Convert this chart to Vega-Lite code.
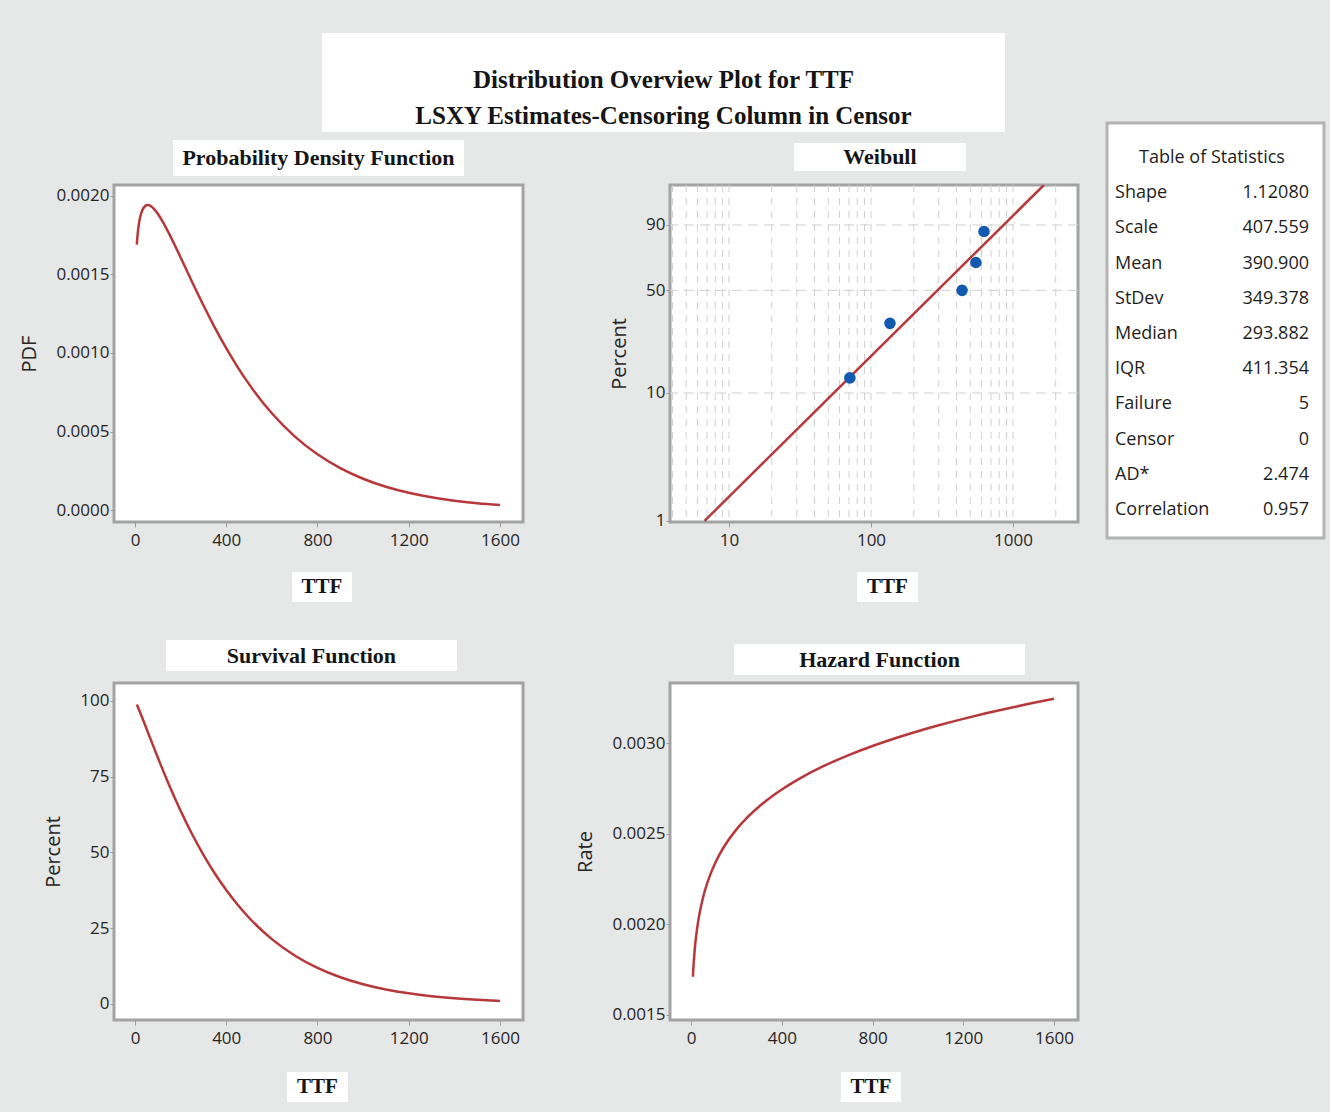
{
  "$schema": "https://vega.github.io/schema/vega-lite/v6.json",
  "background": "#e6e7e7",
  "padding": {"left": 18, "top": 33, "right": 10, "bottom": 20},
  "datasets": {
    "curve": [
      {"ttf": 8, "pdf": 0.0016897, "surv": 98.787, "rate": 0.0017105},
      {"ttf": 10, "pdf": 0.0017299, "surv": 98.444, "rate": 0.0017572},
      {"ttf": 15, "pdf": 0.0018004, "surv": 97.56, "rate": 0.0018454},
      {"ttf": 20, "pdf": 0.0018466, "surv": 96.648, "rate": 0.0019107},
      {"ttf": 30, "pdf": 0.0019017, "surv": 94.771, "rate": 0.0020066},
      {"ttf": 40, "pdf": 0.0019291, "surv": 92.854, "rate": 0.0020776},
      {"ttf": 55, "pdf": 0.001942, "surv": 89.947, "rate": 0.0021591},
      {"ttf": 70, "pdf": 0.0019348, "surv": 87.038, "rate": 0.0022229},
      {"ttf": 85, "pdf": 0.0019149, "surv": 84.149, "rate": 0.0022756},
      {"ttf": 100, "pdf": 0.0018867, "surv": 81.297, "rate": 0.0023207},
      {"ttf": 125, "pdf": 0.0018275, "surv": 76.651, "rate": 0.0023842},
      {"ttf": 150, "pdf": 0.0017588, "surv": 72.166, "rate": 0.0024372},
      {"ttf": 200, "pdf": 0.0016085, "surv": 63.744, "rate": 0.0025234},
      {"ttf": 250, "pdf": 0.001454, "surv": 56.088, "rate": 0.0025924},
      {"ttf": 300, "pdf": 0.0013038, "surv": 49.199, "rate": 0.0026501},
      {"ttf": 350, "pdf": 0.001162, "surv": 43.037, "rate": 0.0026999},
      {"ttf": 400, "pdf": 0.0010306, "surv": 37.56, "rate": 0.0027438},
      {"ttf": 450, "pdf": 0.0009104, "surv": 32.712, "rate": 0.0027831},
      {"ttf": 500, "pdf": 0.0008016, "surv": 28.437, "rate": 0.0028188},
      {"ttf": 600, "pdf": 0.0006161, "surv": 21.383, "rate": 0.0028815},
      {"ttf": 700, "pdf": 0.0004693, "surv": 15.985, "rate": 0.0029357},
      {"ttf": 800, "pdf": 0.0003547, "surv": 11.889, "rate": 0.0029834},
      {"ttf": 900, "pdf": 0.0002664, "surv": 8.803, "rate": 0.0030262},
      {"ttf": 1000, "pdf": 0.000199, "surv": 6.492, "rate": 0.003065},
      {"ttf": 1100, "pdf": 0.0001479, "surv": 4.77, "rate": 0.0031005},
      {"ttf": 1200, "pdf": 0.0001094, "surv": 3.492, "rate": 0.0031332},
      {"ttf": 1300, "pdf": 0.0000806, "surv": 2.549, "rate": 0.0031637},
      {"ttf": 1400, "pdf": 0.0000592, "surv": 1.855, "rate": 0.0031921},
      {"ttf": 1500, "pdf": 0.0000433, "surv": 1.346, "rate": 0.0032188},
      {"ttf": 1600, "pdf": 0.0000316, "surv": 0.975, "rate": 0.003244}
    ]
  },
  "config": {
    "view": {"stroke": null},
    "axis": {
      "labelFont": "Open Sans", "labelFontSize": 17, "labelColor": "#262626",
      "tickColor": "#9c9c9c", "tickSize": 4, "labelPadding": 1,
      "domain": false, "grid": false,
      "titleFont": "Open Sans", "titleFontSize": 20, "titleFontWeight": "normal",
      "titleColor": "#262626", "titlePadding": 16, "labelFlush": false
    },
    "axisX": {"labelPadding": 5, "tickSize": 5}
  },
  "spacing": 25,
  "hconcat": [
    {
      "spacing": 0,
      "vconcat": [
        {
          "width": 891, "height": 99,
          "view": {"stroke": null, "fill": null},
          "data": {"values": [
            {"box": "main", "line": "1", "text": "Distribution Overview Plot for TTF"},
            {"box": "main", "line": "2", "text": "LSXY Estimates-Censoring Column in Censor"}
          ]},
          "encoding": {
            "x": {"field": "box", "type": "nominal", "axis": null, "scale": {"type": "band", "paddingInner": 0, "paddingOuter": 0.1523, "align": 1}}
          },
          "layer": [
            {"mark": {"type": "rect", "color": "white"},
             "encoding": {
               "y": {"datum": 1, "type": "quantitative", "axis": null, "scale": {"domain": [0, 1], "nice": false, "zero": false}},
               "y2": {"datum": 0}
             }},
            {"mark": {"type": "text", "font": "Liberation Serif", "fontWeight": "bold", "fontSize": 25, "color": "#151515"},
             "encoding": {
               "y": {"field": "line", "type": "nominal", "axis": null, "scale": {"type": "point", "padding": 0.875, "align": 0.746}},
               "text": {"field": "text"}
             }}
          ],
          "resolve": {"scale": {"y": "independent"}}
        },
        {
          "spacing": 49,
          "hconcat": [
            {
              "bounds": "flush",
              "spacing": 0,
              "vconcat": [
                {
                  "width": 409, "height": 53,
                  "view": {"stroke": null, "fill": null},
                  "data": {"values": [{"box": "Probability Density Function"}]},
                  "encoding": {
                    "x": {"field": "box", "type": "nominal", "axis": null, "scale": {"type": "band", "paddingInner": 0, "paddingOuter": 0.2027, "align": 0.5}},
                    "y": {"field": "box", "type": "nominal", "axis": null, "scale": {"type": "band", "paddingInner": 0, "paddingOuter": 0.2361, "align": 0.47}}
                  },
                  "layer": [
                    {"mark": {"type": "rect", "color": "white"}},
                    {"mark": {"type": "text", "font": "Liberation Serif", "fontWeight": "bold", "fontSize": 22, "color": "#151515"}, "encoding": {"text": {"field": "box"}}}
                  ]
                },
                {
                  "width": 409, "height": 337,
                  "view": {"fill": "white", "stroke": "#a3a3a3", "strokeWidth": 3},
                  "data": {"name": "curve"},
                  "mark": {"type": "line", "color": "#b7383a", "strokeWidth": 2.5, "interpolate": "monotone"},
                  "encoding": {
                    "x": {"field": "ttf", "type": "quantitative", "scale": {"domain": [-92, 1701], "nice": false, "zero": false},
                          "axis": {"values": [0, 400, 800, 1200, 1600], "format": "d", "title": null}},
                    "y": {"field": "pdf", "type": "quantitative", "scale": {"domain": [-0.0000764, 0.00207], "nice": false, "zero": false},
                          "axis": {"values": [0, 0.0005, 0.001, 0.0015, 0.002], "format": ".4f", "title": "PDF"}}
                  }
                },
                {
                  "width": 409, "height": 80,
                  "view": {"stroke": null, "fill": null},
                  "data": {"values": [{"box": "TTF"}]},
                  "encoding": {
                    "x": {"field": "box", "type": "nominal", "axis": null, "scale": {"type": "band", "paddingInner": 0.6562, "paddingOuter": 1, "align": 0.51}},
                    "y": {"field": "box", "type": "nominal", "axis": null, "scale": {"type": "band", "paddingInner": 0, "paddingOuter": 0.8333, "align": 1}}
                  },
                  "layer": [
                    {"mark": {"type": "rect", "color": "white"}},
                    {"mark": {"type": "text", "font": "Liberation Serif", "fontWeight": "bold", "fontSize": 21, "color": "#151515"}, "encoding": {"text": {"field": "box"}}}
                  ]
                },
                {
                  "width": 409, "height": 81,
                  "view": {"stroke": null, "fill": null},
                  "data": {"values": [{"box": "Survival Function"}]},
                  "encoding": {
                    "x": {"field": "box", "type": "nominal", "axis": null, "scale": {"type": "band", "paddingInner": 0, "paddingOuter": 0.2027, "align": 0.44}},
                    "y": {"field": "box", "type": "nominal", "axis": null, "scale": {"type": "band", "paddingInner": 0, "paddingOuter": 0.8065, "align": 0.76}}
                  },
                  "layer": [
                    {"mark": {"type": "rect", "color": "white"}},
                    {"mark": {"type": "text", "font": "Liberation Serif", "fontWeight": "bold", "fontSize": 22, "color": "#151515"}, "encoding": {"text": {"field": "box"}}}
                  ]
                },
                {
                  "width": 409, "height": 337,
                  "view": {"fill": "white", "stroke": "#a3a3a3", "strokeWidth": 3},
                  "data": {"name": "curve"},
                  "mark": {"type": "line", "color": "#b7383a", "strokeWidth": 2.5, "interpolate": "monotone"},
                  "encoding": {
                    "x": {"field": "ttf", "type": "quantitative", "scale": {"domain": [-92, 1701], "nice": false, "zero": false},
                          "axis": {"values": [0, 400, 800, 1200, 1600], "format": "d", "title": null}},
                    "y": {"field": "surv", "type": "quantitative", "scale": {"domain": [-5.3, 105.9], "nice": false, "zero": false},
                          "axis": {"values": [0, 25, 50, 75, 100], "format": "d", "title": "Percent"}}
                  }
                },
                {
                  "width": 409, "height": 82,
                  "view": {"stroke": null, "fill": null},
                  "data": {"values": [{"box": "TTF"}]},
                  "encoding": {
                    "x": {"field": "box", "type": "nominal", "axis": null, "scale": {"type": "band", "paddingInner": 0.6494, "paddingOuter": 1, "align": 0.497}},
                    "y": {"field": "box", "type": "nominal", "axis": null, "scale": {"type": "band", "paddingInner": 0, "paddingOuter": 0.8667, "align": 1}}
                  },
                  "layer": [
                    {"mark": {"type": "rect", "color": "white"}},
                    {"mark": {"type": "text", "font": "Liberation Serif", "fontWeight": "bold", "fontSize": 21, "color": "#151515"}, "encoding": {"text": {"field": "box"}}}
                  ]
                }
              ]
            },
            {
              "bounds": "flush",
              "spacing": 0,
              "vconcat": [
                {
                  "width": 408, "height": 53,
                  "view": {"stroke": null, "fill": null},
                  "data": {"values": [{"box": "Weibull"}]},
                  "encoding": {
                    "x": {"field": "box", "type": "nominal", "axis": null, "scale": {"type": "band", "paddingInner": 0, "paddingOuter": 0.686, "align": 0.525}},
                    "y": {"field": "box", "type": "nominal", "axis": null, "scale": {"type": "band", "paddingInner": 0, "paddingOuter": 0.4464, "align": 0.44}}
                  },
                  "layer": [
                    {"mark": {"type": "rect", "color": "white"}},
                    {"mark": {"type": "text", "font": "Liberation Serif", "fontWeight": "bold", "fontSize": 22, "color": "#151515"}, "encoding": {"text": {"field": "box"}}}
                  ]
                },
                {
                  "width": 408, "height": 337,
                  "view": {"fill": "white", "stroke": "#a3a3a3", "strokeWidth": 3},
                  "layer": [
                    {
                      "data": {"values": [
                        {"ttf": 4}, {"ttf": 5}, {"ttf": 6}, {"ttf": 7}, {"ttf": 8}, {"ttf": 9}, {"ttf": 10},
                        {"ttf": 20}, {"ttf": 30}, {"ttf": 40}, {"ttf": 50}, {"ttf": 60}, {"ttf": 70}, {"ttf": 80}, {"ttf": 90}, {"ttf": 100},
                        {"ttf": 200}, {"ttf": 300}, {"ttf": 400}, {"ttf": 500}, {"ttf": 600}, {"ttf": 700}, {"ttf": 800}, {"ttf": 900}, {"ttf": 1000},
                        {"ttf": 2000}
                      ]},
                      "mark": {"type": "rule", "color": "#d0d0d0", "strokeDash": [7, 6], "strokeWidth": 1},
                      "encoding": {
                        "x": {"field": "ttf", "type": "quantitative", "scale": {"type": "log", "domain": [3.84, 2870], "nice": false},
                              "axis": {"values": [10, 100, 1000], "format": "d", "title": null}}
                      }
                    },
                    {
                      "data": {"values": [{"wz": -2.2504}, {"wz": -0.3665}, {"wz": 0.834}]},
                      "mark": {"type": "rule", "color": "#d0d0d0", "strokeDash": [10, 6], "strokeWidth": 1},
                      "encoding": {
                        "y": {"field": "wz", "type": "quantitative", "scale": {"domain": [-4.62, 1.568], "nice": false, "zero": false},
                              "axis": {"values": [-4.6002, -2.2504, -0.3665, 0.834], "title": "Percent",
                                       "labelExpr": "datum.value < -4 ? '1' : datum.value < -1 ? '10' : datum.value < 0 ? '50' : '90'"}}
                      }
                    },
                    {
                      "data": {"values": [
                        {"ttf": 6.725, "percent": 1, "wz": -4.6002},
                        {"ttf": 1651, "percent": 99.17, "wz": 1.568}
                      ]},
                      "mark": {"type": "line", "color": "#b7383a", "strokeWidth": 2.5, "clip": true},
                      "encoding": {
                        "x": {"field": "ttf", "type": "quantitative", "scale": {"type": "log", "domain": [3.84, 2870], "nice": false},
                              "axis": {"values": [10, 100, 1000], "format": "d", "title": null}},
                        "y": {"field": "wz", "type": "quantitative", "scale": {"domain": [-4.62, 1.568], "nice": false, "zero": false},
                              "axis": {"values": [-4.6002, -2.2504, -0.3665, 0.834], "title": "Percent",
                                       "labelExpr": "datum.value < -4 ? '1' : datum.value < -1 ? '10' : datum.value < 0 ? '50' : '90'"}}
                      }
                    },
                    {
                      "data": {"values": [
                        {"ttf": 71, "percent": 12.96, "wz": -1.9744},
                        {"ttf": 136, "percent": 31.48, "wz": -0.9724},
                        {"ttf": 438, "percent": 50.0, "wz": -0.3665},
                        {"ttf": 548, "percent": 68.52, "wz": 0.1448},
                        {"ttf": 625, "percent": 87.04, "wz": 0.7144}
                      ]},
                      "mark": {"type": "point", "filled": true, "size": 135, "color": "#1259b0", "opacity": 1},
                      "encoding": {
                        "x": {"field": "ttf", "type": "quantitative", "scale": {"type": "log", "domain": [3.84, 2870], "nice": false},
                              "axis": {"values": [10, 100, 1000], "format": "d", "title": null}},
                        "y": {"field": "wz", "type": "quantitative", "scale": {"domain": [-4.62, 1.568], "nice": false, "zero": false},
                              "axis": {"values": [-4.6002, -2.2504, -0.3665, 0.834], "title": "Percent",
                                       "labelExpr": "datum.value < -4 ? '1' : datum.value < -1 ? '10' : datum.value < 0 ? '50' : '90'"}}
                      }
                    }
                  ]
                },
                {
                  "width": 408, "height": 80,
                  "view": {"stroke": null, "fill": null},
                  "data": {"values": [{"box": "TTF"}]},
                  "encoding": {
                    "x": {"field": "box", "type": "nominal", "axis": null, "scale": {"type": "band", "paddingInner": 0.6484, "paddingOuter": 1, "align": 0.539}},
                    "y": {"field": "box", "type": "nominal", "axis": null, "scale": {"type": "band", "paddingInner": 0, "paddingOuter": 0.8333, "align": 1}}
                  },
                  "layer": [
                    {"mark": {"type": "rect", "color": "white"}},
                    {"mark": {"type": "text", "font": "Liberation Serif", "fontWeight": "bold", "fontSize": 21, "color": "#151515"}, "encoding": {"text": {"field": "box"}}}
                  ]
                },
                {
                  "width": 408, "height": 81,
                  "view": {"stroke": null, "fill": null},
                  "data": {"values": [{"box": "Hazard Function"}]},
                  "encoding": {
                    "x": {"field": "box", "type": "nominal", "axis": null, "scale": {"type": "band", "paddingInner": 0, "paddingOuter": 0.201, "align": 0.547}},
                    "y": {"field": "box", "type": "nominal", "axis": null, "scale": {"type": "band", "paddingInner": 0, "paddingOuter": 0.8065, "align": 0.84}}
                  },
                  "layer": [
                    {"mark": {"type": "rect", "color": "white"}},
                    {"mark": {"type": "text", "font": "Liberation Serif", "fontWeight": "bold", "fontSize": 22, "color": "#151515"}, "encoding": {"text": {"field": "box"}}}
                  ]
                },
                {
                  "width": 408, "height": 337,
                  "view": {"fill": "white", "stroke": "#a3a3a3", "strokeWidth": 3},
                  "data": {"name": "curve"},
                  "mark": {"type": "line", "color": "#b7383a", "strokeWidth": 2.5, "interpolate": "monotone"},
                  "encoding": {
                    "x": {"field": "ttf", "type": "quantitative", "scale": {"domain": [-93, 1706], "nice": false, "zero": false},
                          "axis": {"values": [0, 400, 800, 1200, 1600], "format": "d", "title": null}},
                    "y": {"field": "rate", "type": "quantitative", "scale": {"domain": [0.001472, 0.003331], "nice": false, "zero": false},
                          "axis": {"values": [0.0015, 0.002, 0.0025, 0.003], "format": ".4f", "title": "Rate"}}
                  }
                },
                {
                  "width": 408, "height": 82,
                  "view": {"stroke": null, "fill": null},
                  "data": {"values": [{"box": "TTF"}]},
                  "encoding": {
                    "x": {"field": "box", "type": "nominal", "axis": null, "scale": {"type": "band", "paddingInner": 0.6552, "paddingOuter": 1, "align": 0.491}},
                    "y": {"field": "box", "type": "nominal", "axis": null, "scale": {"type": "band", "paddingInner": 0, "paddingOuter": 0.8667, "align": 1}}
                  },
                  "layer": [
                    {"mark": {"type": "rect", "color": "white"}},
                    {"mark": {"type": "text", "font": "Liberation Serif", "fontWeight": "bold", "fontSize": 21, "color": "#151515"}, "encoding": {"text": {"field": "box"}}}
                  ]
                }
              ]
            }
          ]
        }
      ]
    },
    {
      "bounds": "flush",
      "spacing": 0,
      "vconcat": [
        {
          "width": 217, "height": 90,
          "view": {"stroke": null, "fill": null},
          "data": {"values": [{"gap": "above table"}]},
          "mark": {"type": "rect", "opacity": 0}
        },
        {
          "width": 217, "height": 415,
          "view": {"fill": "white", "stroke": "#b3b3b3", "strokeWidth": 3},
          "data": {"values": [
            {"stat": "Shape", "value": "1.12080"},
            {"stat": "Scale", "value": "407.559"},
            {"stat": "Mean", "value": "390.900"},
            {"stat": "StDev", "value": "349.378"},
            {"stat": "Median", "value": "293.882"},
            {"stat": "IQR", "value": "411.354"},
            {"stat": "Failure", "value": "5"},
            {"stat": "Censor", "value": "0"},
            {"stat": "AD*", "value": "2.474"},
            {"stat": "Correlation", "value": "0.957"}
          ]},
          "layer": [
            {
              "mark": {"type": "text", "align": "left", "font": "Open Sans", "fontSize": 18, "color": "#1e1e1e"},
              "encoding": {
                "x": {"datum": "left", "type": "nominal", "axis": null, "scale": {"type": "point", "domain": ["left", "center", "right"], "padding": 0.1186, "align": 0.348}},
                "y": {"field": "stat", "type": "nominal", "axis": null, "scale": {"type": "point", "domain": ["Table of Statistics", "Shape", "Scale", "Mean", "StDev", "Median", "IQR", "Failure", "Censor", "AD*", "Correlation"], "padding": 0.895, "align": 0.556}},
                "text": {"field": "stat"}
              }
            },
            {
              "mark": {"type": "text", "align": "right", "font": "Open Sans", "fontSize": 18, "color": "#1e1e1e"},
              "encoding": {
                "x": {"datum": "right", "type": "nominal", "axis": null, "scale": {"type": "point", "domain": ["left", "center", "right"], "padding": 0.1186, "align": 0.348}},
                "y": {"field": "stat", "type": "nominal", "axis": null, "scale": {"type": "point", "domain": ["Table of Statistics", "Shape", "Scale", "Mean", "StDev", "Median", "IQR", "Failure", "Censor", "AD*", "Correlation"], "padding": 0.895, "align": 0.556}},
                "text": {"field": "value"}
              }
            },
            {
              "data": {"values": [{"stat": "Table of Statistics"}]},
              "mark": {"type": "text", "align": "center", "font": "Open Sans", "fontSize": 18, "color": "#1e1e1e"},
              "encoding": {
                "x": {"datum": "center", "type": "nominal", "axis": null, "scale": {"type": "point", "domain": ["left", "center", "right"], "padding": 0.1186, "align": 0.348}},
                "y": {"field": "stat", "type": "nominal", "axis": null, "scale": {"type": "point", "domain": ["Table of Statistics", "Shape", "Scale", "Mean", "StDev", "Median", "IQR", "Failure", "Censor", "AD*", "Correlation"], "padding": 0.895, "align": 0.556}},
                "text": {"field": "stat"}
              }
            }
          ]
        }
      ]
    }
  ]
}
